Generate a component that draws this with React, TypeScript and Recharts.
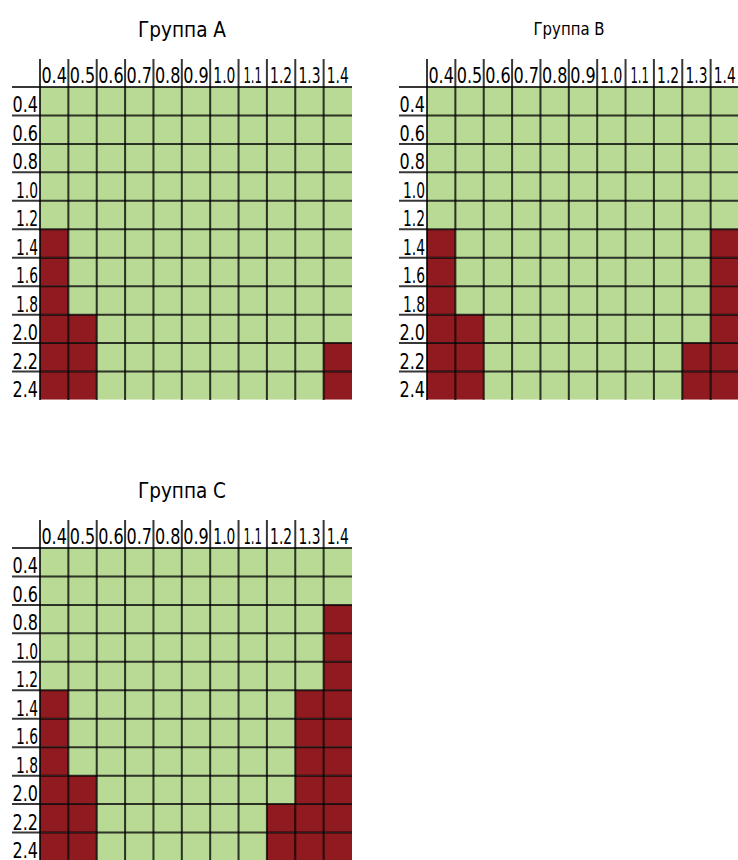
import { BarChart, Bar, XAxis, YAxis, Cell } from 'recharts';

const colLabels = ['0.4', '0.5', '0.6', '0.7', '0.8', '0.9', '1.0', '1.1', '1.2', '1.3', '1.4'];
const rowLabels = ['0.4', '0.6', '0.8', '1.0', '1.2', '1.4', '1.6', '1.8', '2.0', '2.2', '2.4'];

// 1 = out of range (red), 0 = ok (green); one row per rowLabels entry
const groupA = [
  [0, 0, 0, 0, 0, 0, 0, 0, 0, 0, 0],
  [0, 0, 0, 0, 0, 0, 0, 0, 0, 0, 0],
  [0, 0, 0, 0, 0, 0, 0, 0, 0, 0, 0],
  [0, 0, 0, 0, 0, 0, 0, 0, 0, 0, 0],
  [0, 0, 0, 0, 0, 0, 0, 0, 0, 0, 0],
  [1, 0, 0, 0, 0, 0, 0, 0, 0, 0, 0],
  [1, 0, 0, 0, 0, 0, 0, 0, 0, 0, 0],
  [1, 0, 0, 0, 0, 0, 0, 0, 0, 0, 0],
  [1, 1, 0, 0, 0, 0, 0, 0, 0, 0, 0],
  [1, 1, 0, 0, 0, 0, 0, 0, 0, 0, 1],
  [1, 1, 0, 0, 0, 0, 0, 0, 0, 0, 1],
];

const groupB = [
  [0, 0, 0, 0, 0, 0, 0, 0, 0, 0, 0],
  [0, 0, 0, 0, 0, 0, 0, 0, 0, 0, 0],
  [0, 0, 0, 0, 0, 0, 0, 0, 0, 0, 0],
  [0, 0, 0, 0, 0, 0, 0, 0, 0, 0, 0],
  [0, 0, 0, 0, 0, 0, 0, 0, 0, 0, 0],
  [1, 0, 0, 0, 0, 0, 0, 0, 0, 0, 1],
  [1, 0, 0, 0, 0, 0, 0, 0, 0, 0, 1],
  [1, 0, 0, 0, 0, 0, 0, 0, 0, 0, 1],
  [1, 1, 0, 0, 0, 0, 0, 0, 0, 0, 1],
  [1, 1, 0, 0, 0, 0, 0, 0, 0, 1, 1],
  [1, 1, 0, 0, 0, 0, 0, 0, 0, 1, 1],
];

const groupC = [
  [0, 0, 0, 0, 0, 0, 0, 0, 0, 0, 0],
  [0, 0, 0, 0, 0, 0, 0, 0, 0, 0, 0],
  [0, 0, 0, 0, 0, 0, 0, 0, 0, 0, 1],
  [0, 0, 0, 0, 0, 0, 0, 0, 0, 0, 1],
  [0, 0, 0, 0, 0, 0, 0, 0, 0, 0, 1],
  [1, 0, 0, 0, 0, 0, 0, 0, 0, 1, 1],
  [1, 0, 0, 0, 0, 0, 0, 0, 0, 1, 1],
  [1, 0, 0, 0, 0, 0, 0, 0, 0, 1, 1],
  [1, 1, 0, 0, 0, 0, 0, 0, 0, 1, 1],
  [1, 1, 0, 0, 0, 0, 0, 0, 1, 1, 1],
  [1, 1, 0, 0, 0, 0, 0, 0, 1, 1, 1],
];

const FONT = '"DejaVu Sans", sans-serif';
const GREEN = '#b8da94';
const RED = '#8f1a1f';
const LINE = 'rgba(0,0,0,0.78)';

const CHART_W = 360;
const CHART_H = 402;
const MARGIN = { top: 59, right: 8, bottom: 2, left: 12 };
const Y_W = 28;
const X_H = 28;
const PLOT_TOP = MARGIN.top + X_H;
const PLOT_LEFT = MARGIN.left + Y_W;
const PLOT_W = CHART_W - PLOT_LEFT - MARGIN.right;
const PLOT_H = CHART_H - PLOT_TOP - MARGIN.bottom;
const CELL_W = PLOT_W / colLabels.length;
const CELL_H = PLOT_H / rowLabels.length;

// squeeze the wide fallback font to the narrow look of the original
const labelWidth = (s: string) =>
  s.split('').reduce((w, ch) => w + (ch === '.' ? 4.5 : ch === '1' ? 7 : 10.5), 0);

function ColTick(props: any) {
  const { x, payload } = props;
  const label = colLabels[payload.value];
  return (
    <g>
      <line x1={x} x2={x} y1={MARGIN.top} y2={PLOT_TOP + PLOT_H} stroke={LINE} strokeWidth={2} />
      <text
        x={x + CELL_W / 2}
        y={PLOT_TOP - 4}
        textAnchor="middle"
        fontSize={22}
        fontFamily={FONT}
        fill="#000"
        textLength={labelWidth(label)}
        lengthAdjust="spacingAndGlyphs"
      >
        {label}
      </text>
    </g>
  );
}

function RowTick(props: any) {
  const { y, payload } = props;
  return (
    <g>
      <line x1={MARGIN.left} x2={PLOT_LEFT + PLOT_W} y1={y - CELL_H / 2} y2={y - CELL_H / 2} stroke={LINE} strokeWidth={2} />
      <text
        x={PLOT_LEFT - 2}
        y={y + CELL_H / 2 - 3}
        textAnchor="end"
        fontSize={22}
        fontFamily={FONT}
        fill="#000"
        textLength={labelWidth(payload.value)}
        lengthAdjust="spacingAndGlyphs"
      >
        {payload.value}
      </text>
    </g>
  );
}

interface HeatmapProps {
  title: string;
  titleSize: number;
  titleWidth: number;
  titleY: number;
  cells: number[][];
  left: number;
  top: number;
}

function Heatmap({ title, titleSize, titleWidth, titleY, cells, left, top }: HeatmapProps) {
  const data = rowLabels.map((row) => {
    const item: Record<string, string | number> = { row };
    colLabels.forEach((_, c) => {
      item[`c${c}`] = 1;
    });
    return item;
  });

  return (
    <div style={{ position: 'absolute', left, top, width: CHART_W, height: CHART_H }}>
      <svg width={CHART_W} height={50} style={{ position: 'absolute', left: 0, top: 0 }}>
        <text
          x={(MARGIN.left + PLOT_LEFT + PLOT_W) / 2}
          y={titleY}
          textAnchor="middle"
          fontSize={titleSize}
          fontFamily={FONT}
          fill="#000"
          textLength={titleWidth}
          lengthAdjust="spacingAndGlyphs"
        >
          {title}
        </text>
      </svg>
      <BarChart width={CHART_W} height={CHART_H} data={data} layout="vertical" margin={MARGIN} barCategoryGap={0}>
        {colLabels.map((_, c) => (
          <Bar key={c} dataKey={`c${c}`} stackId="grid" isAnimationActive={false}>
            {rowLabels.map((__, r) => (
              <Cell key={r} fill={cells[r][c] ? RED : GREEN} />
            ))}
          </Bar>
        ))}
        <XAxis
          type="number"
          orientation="top"
          domain={[0, colLabels.length]}
          ticks={colLabels.map((_, c) => c)}
          interval={0}
          height={X_H}
          axisLine={false}
          tickLine={false}
          tick={(p: any) => <ColTick {...p} />}
        />
        <YAxis
          type="category"
          dataKey="row"
          width={Y_W}
          interval={0}
          axisLine={false}
          tickLine={false}
          tick={(p: any) => <RowTick {...p} />}
        />
      </BarChart>
    </div>
  );
}

export default function App() {
  return (
    <div style={{ position: 'absolute', left: 0, top: 0, width: 738, height: 860, overflow: 'hidden', background: '#fff' }}>
      <Heatmap title="Группа A" titleSize={22} titleWidth={88} titleY={37} cells={groupA} left={0} top={0} />
      <Heatmap title="Группа B" titleSize={17} titleWidth={71} titleY={35} cells={groupB} left={387} top={0} />
      <Heatmap title="Группа C" titleSize={22} titleWidth={88} titleY={37} cells={groupC} left={0} top={461} />
    </div>
  );
}
